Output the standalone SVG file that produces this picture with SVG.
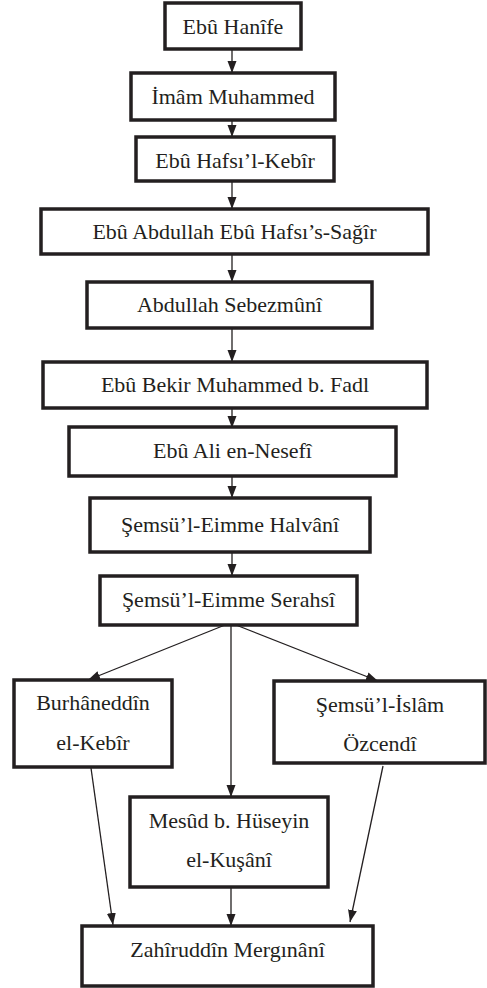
<svg xmlns="http://www.w3.org/2000/svg" width="487" height="988" viewBox="0 0 487 988">
<style>
.box{fill:#fff;stroke:#231f20;stroke-width:3.5}
.lbl{font-family:"Liberation Serif","Times New Roman",serif;font-size:22px;fill:#231f20;text-anchor:middle}
.con{stroke:#231f20;stroke-width:1.3;fill:none;marker-end:url(#ah)}
</style>
<defs>
<marker id="ah" viewBox="0 0 12 10" refX="12" refY="5" markerWidth="12" markerHeight="10" markerUnits="userSpaceOnUse" orient="auto">
<path d="M0,0.5 L12,5 L0,9.5 Z" fill="#231f20"/>
</marker>
</defs>
<rect width="487" height="988" fill="#fff"/>
<g id="connectors">
<line class="con" x1="232" y1="49" x2="232" y2="73"/>
<line class="con" x1="232" y1="116" x2="232" y2="137"/>
<line class="con" x1="232" y1="181" x2="232" y2="209"/>
<line class="con" x1="232" y1="254" x2="232" y2="282"/>
<line class="con" x1="232" y1="328" x2="232" y2="362"/>
<line class="con" x1="232" y1="403" x2="232" y2="428"/>
<line class="con" x1="232" y1="476" x2="232" y2="498"/>
<line class="con" x1="232" y1="552" x2="232" y2="576"/>
<line class="con" x1="225" y1="625" x2="88" y2="680"/>
<line class="con" x1="231" y1="625" x2="231" y2="797"/>
<line class="con" x1="236" y1="625" x2="378" y2="681"/>
<line class="con" x1="91" y1="768" x2="113" y2="925"/>
<line class="con" x1="231" y1="887" x2="231" y2="926"/>
<line class="con" x1="383" y1="766" x2="350" y2="922"/>
</g>
<g id="n1"><rect class="box" x="165" y="3" width="136" height="46"/><text class="lbl" x="233" y="34">Ebû Hanîfe</text></g>
<g id="n2"><rect class="box" x="131" y="73" width="204" height="47"/><text class="lbl" x="233" y="104">İmâm Muhammed</text></g>
<g id="n3"><rect class="box" x="136" y="137" width="198" height="44"/><text class="lbl" x="235" y="168">Ebû Hafsı’l-Kebîr</text></g>
<g id="n4"><rect class="box" x="41" y="209" width="387" height="45"/><text class="lbl" x="234.5" y="239">Ebû Abdullah Ebû Hafsı’s-Sağîr</text></g>
<g id="n5"><rect class="box" x="87" y="282" width="285" height="46"/><text class="lbl" x="229.5" y="312">Abdullah Sebezmûnî</text></g>
<g id="n6"><rect class="box" x="43" y="362" width="384" height="46"/><text class="lbl" x="235" y="392">Ebû Bekir Muhammed b. Fadl</text></g>
<g id="n7"><rect class="box" x="69" y="427" width="327" height="49"/><text class="lbl" x="232.5" y="458">Ebû Ali en-Nesefî</text></g>
<g id="n8"><rect class="box" x="90" y="498" width="280" height="54"/><text class="lbl" x="230" y="532">Şemsü’l-Eimme Halvânî</text></g>
<g id="n9"><rect class="box" x="100" y="576" width="257" height="49"/><text class="lbl" x="228.5" y="607">Şemsü’l-Eimme Serahsî</text></g>
<g id="n10"><rect class="box" x="14" y="680" width="158" height="87"/><text class="lbl" x="93" y="710">Burhâneddîn</text><text class="lbl" x="93" y="750">el-Kebîr</text></g>
<g id="n11"><rect class="box" x="274" y="681" width="211" height="82"/><text class="lbl" x="380" y="712">Şemsü’l-İslâm</text><text class="lbl" x="380" y="751">Özcendî</text></g>
<g id="n12"><rect class="box" x="130" y="797" width="198" height="90"/><text class="lbl" x="229" y="828">Mesûd b. Hüseyin</text><text class="lbl" x="229" y="867">el-Kuşânî</text></g>
<g id="n13"><rect class="box" x="82" y="926" width="291" height="60"/><text class="lbl" x="227.5" y="957">Zahîruddîn Mergınânî</text></g>
</svg>
